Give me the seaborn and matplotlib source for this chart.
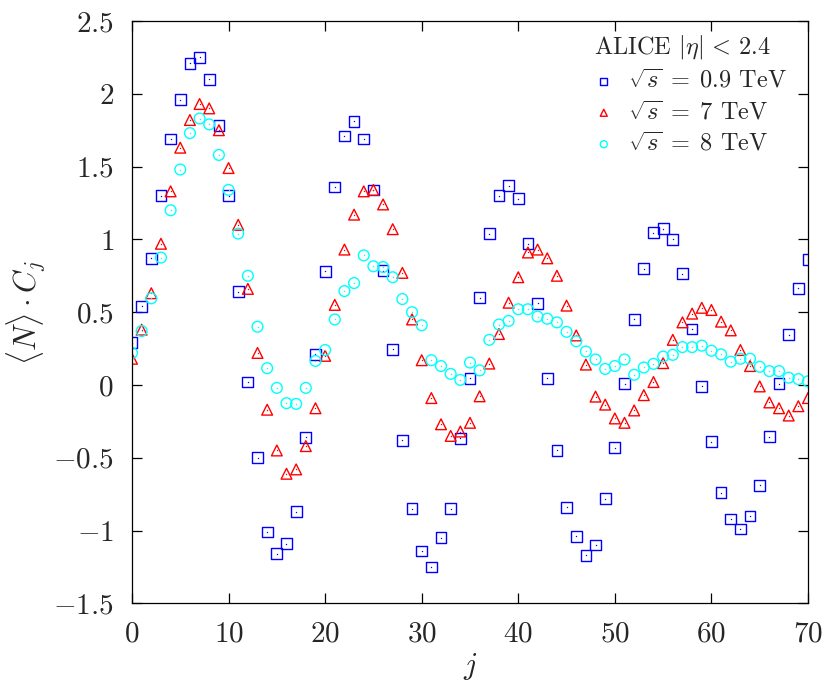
# correlacoes_alice.py

import numpy as np
import pandas as pd
import matplotlib
matplotlib.use("Agg")
import matplotlib.pyplot as plt
from matplotlib.ticker import FuncFormatter, MultipleLocator
import seaborn as sns

# Dados (j = 0..70)
j = np.arange(0, 71)

c_09tev = [0.29, 0.54, 0.87, 1.30, 1.69, 1.96, 2.21, 2.25, 2.10, 1.78,
           1.30, 0.64, 0.02, -0.50, -1.01, -1.16, -1.09, -0.87, -0.36, 0.21,
           0.78, 1.36, 1.71, 1.81, 1.69, 1.34, 0.785, 0.245, -0.38, -0.85,
           -1.14, -1.25, -1.05, -0.85, -0.366, 0.045, 0.60, 1.04, 1.30, 1.37,
           1.28, 0.97, 0.56, 0.045, -0.45, -0.84, -1.04, -1.17, -1.10, -0.78,
           -0.43, 0.01, 0.45, 0.80, 1.046, 1.073, 1.00, 0.765, 0.385, -0.01,
           -0.39, -0.74, -0.92, -0.99, -0.90, -0.69, -0.355, 0.01, 0.345, 0.665,
           0.86]

c_7tev = [0.18, 0.38, 0.63, 0.97, 1.33, 1.63, 1.82, 1.93, 1.90, 1.75,
          1.49, 1.10, 0.66, 0.22, -0.17, -0.45, -0.61, -0.58, -0.42, -0.16,
          0.20, 0.55, 0.93, 1.17, 1.33, 1.34, 1.24, 1.07, 0.77, 0.45,
          0.17, -0.09, -0.27, -0.35, -0.32, -0.26, -0.078, 0.147, 0.35, 0.565,
          0.74, 0.91, 0.93, 0.87, 0.75, 0.545, 0.34, 0.14, -0.08, -0.135,
          -0.23, -0.26, -0.175, -0.07, 0.02, 0.15, 0.31, 0.43, 0.49, 0.53,
          0.515, 0.435, 0.375, 0.24, 0.13, -0.01, -0.12, -0.16, -0.21, -0.146,
          -0.09]

c_8tev = [0.22, 0.37, 0.595, 0.875, 1.20, 1.48, 1.73, 1.83, 1.79, 1.58,
          1.34, 1.04, 0.75, 0.40, 0.115, -0.02, -0.125, -0.13, -0.02, 0.165,
          0.24, 0.45, 0.645, 0.70, 0.89, 0.815, 0.81, 0.74, 0.59, 0.50,
          0.41, 0.17, 0.13, 0.076, 0.035, 0.154, 0.10, 0.31, 0.415, 0.44,
          0.52, 0.52, 0.47, 0.455, 0.43, 0.365, 0.30, 0.23, 0.175, 0.11,
          0.13, 0.175, 0.07, 0.12, 0.145, 0.195, 0.207, 0.26, 0.26, 0.27,
          0.235, 0.21, 0.16, 0.18, 0.18, 0.125, 0.095, 0.095, 0.05, 0.04,
          0.025]

rotulos = [r"$\sqrt{s}\;=\;0.9$ TeV", r"$\sqrt{s}\;=\;7$ TeV", r"$\sqrt{s}\;=\;8$ TeV"]
marcadores = ["s", "^", "o"]
cores = ["#0000ff", "#ff0000", "#00ffff"]

df = pd.DataFrame({"j": np.tile(j, 3),
                   "C": c_09tev + c_7tev + c_8tev,
                   "serie": np.repeat(rotulos, len(j))})

# Configuracoes iniciais
sns.set_theme(style="ticks")
plt.rcParams["font.family"] = "serif"
plt.rcParams["font.serif"] = ["cmr10", "DejaVu Serif"]
plt.rcParams["mathtext.fontset"] = "cm"
plt.rcParams["axes.formatter.use_mathtext"] = True

fig = plt.figure(figsize=(8.3, 6.87), dpi=100)
ax = fig.add_axes([0.159, 0.1218, 0.8145, 0.8476])

for rotulo, m, cor in zip(rotulos, marcadores, cores):
    sub = df[df["serie"] == rotulo]
    sns.scatterplot(x="j", y="C", data=sub, ax=ax, marker=m, s=60,
                    facecolors="none", edgecolor=cor, linewidth=1.0, label=rotulo)
    # pontinho central (estilo gnuplot)
    sns.scatterplot(x="j", y="C", data=sub, ax=ax, marker="o", s=1,
                    color=cor, linewidth=0, legend=False)

ax.set_xlim(0, 70)
ax.set_ylim(-1.5, 2.5)
ax.xaxis.set_major_locator(MultipleLocator(10))
ax.yaxis.set_major_locator(MultipleLocator(0.5))
ax.xaxis.set_major_formatter(FuncFormatter(lambda v, p: "$%g$" % v))
ax.yaxis.set_major_formatter(FuncFormatter(lambda v, p: "$%g$" % v))
ax.tick_params(direction="in", length=7, width=0.9, labelsize=21, pad=13,
               top=True, right=True, color="black")
for lado in ax.spines.values():
    lado.set_linewidth(0.9)
    lado.set_color("black")

ax.set_xlabel(r"$j$", fontsize=22, labelpad=2)
ax.set_ylabel(r"$\langle N\rangle \cdot C_j$", fontsize=22, labelpad=4)

leg = ax.legend(title=r"ALICE $|\eta|\,<\,2.4$", loc="upper right", frameon=False,
                fontsize=17.5, title_fontsize=17.5, markerscale=0.65,
                handlelength=0.8, handletextpad=0.6, labelspacing=0.33,
                borderaxespad=0.1, alignment="left",
                bbox_to_anchor=(0.987, 1.0))

plt.savefig("out.png", dpi=100)
plt.close()
